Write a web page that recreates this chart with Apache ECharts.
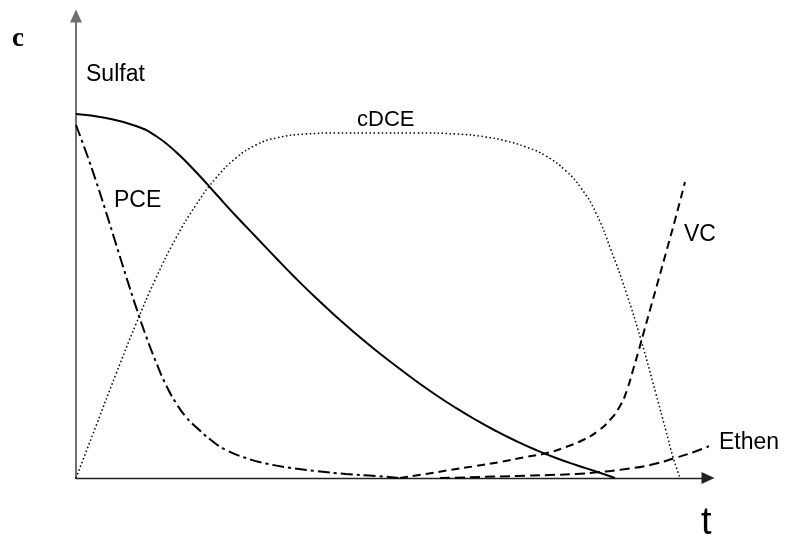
<!DOCTYPE html>
<html>
<head>
<meta charset="utf-8">
<script src="https://cdn.jsdelivr.net/npm/echarts@6/dist/echarts.min.js"></script>
<style>
html,body{margin:0;padding:0;background:#fff;}
#chart{width:786px;height:537px;}
</style>
</head>
<body>
<div id="chart"></div>
<script>
// Arbitrary units (time, concentration)
const sulfat = [[0,364],[30,360],[60,352],[80,342],[100,326],[120,306],[140,284],[160,262],[180,241],[200,220],[220,199.5],[240,180],[260,161.5],[280,144],[300,127.5],[320,112],[340,97],[360,83],[380,70],[400,58],[420,47],[440,37],[460,28],[480,20],[500,13],[520,6.5],[539,0]];
const pce = [[0,353],[10,326],[20,297],[30,266],[40,234],[50,202],[60,171],[70,142],[80,116],[90,93],[100,75],[110,61],[120,51],[135,38],[150,28],[170,20],[190,14.5],[215,10],[240,7],[270,4],[300,2],[324,0]];
const cdce = [[0,0],[20,52],[40,104],[60,154],[80,200],[100,240],[120,273],[140,300],[160,320],[180,333],[200,340],[230,344],[260,345],[300,345],[340,345],[380,344],[410,341],[430,337],[450,331],[470,322],[490,307],[505,290],[520,265],[535,228],[550,186],[565,138],[580,84],[590,47],[597,21],[604,0]];
const vc = [[324,0],[350,4],[374,8],[400,12],[424,16],[450,21],[471,25],[490,31],[507,38],[522,47],[534,58],[544,72],[551,88],[557,108],[562,125],[567,143],[574,168],[581,193],[591,229],[599,258],[609,296]];
const ethen = [[364,0],[404,1],[440,2],[474,3],[500,4],[524,6],[550,9],[574,13],[599,20],[618,26],[636,33]];

const seriesNames = ['Sulfat','PCE','cDCE','VC','Ethen'];
const xMax = 632, yMax = 462;

const chart = echarts.init(document.getElementById('chart'));
const sans = '"Liberation Sans", Arial, sans-serif';
function line(name, data, type, width) {
  return {
    name: name, type: 'line', data: data, showSymbol: false, symbol: 'none',
    smooth: 0.5, clip: false, silent: true,
    lineStyle: { color: '#000', width: width, type: type }
  };
}
chart.setOption({
  animation: false,
  backgroundColor: '#fff',
  grid: { left: 76, right: 78, top: 16, bottom: 59 },
  xAxis: {
    type: 'value', min: 0, max: xMax,
    axisLine: { show: true, symbol: ['none','triangle'], symbolSize: [12,13],
      lineStyle: { color: '#222', width: 1.3 } },
    axisTick: { show: false }, axisLabel: { show: false }, splitLine: { show: false }
  },
  yAxis: {
    type: 'value', min: 0, max: yMax,
    axisLine: { show: true, symbol: ['none','triangle'], symbolSize: [12,13],
      lineStyle: { color: '#6e6e6e', width: 2 } },
    axisTick: { show: false }, axisLabel: { show: false }, splitLine: { show: false }
  },
  series: [
    line(seriesNames[0], sulfat, 'solid', 2),
    line(seriesNames[1], pce, [12,4,3,4], 2),
    line(seriesNames[2], cdce, [1.5,2.5], 1.5),
    line(seriesNames[3], vc, [8,5], 2),
    line(seriesNames[4], ethen, [10,5], 2)
  ],
  graphic: [
    { type: 'text', style: { text: 'c', x: 12, y: 39, font: 'bold 27px "Liberation Serif", serif', fill: '#000', textVerticalAlign: 'middle' } },
    { type: 'text', style: { text: 't', x: 701, y: 524, font: '38px ' + sans, fill: '#000', textVerticalAlign: 'middle' } },
    { type: 'text', style: { text: 'Sulfat', x: 86, y: 75, font: '23px ' + sans, fill: '#000', textVerticalAlign: 'middle' } },
    { type: 'text', style: { text: 'PCE', x: 114, y: 201, font: '23px ' + sans, fill: '#000', textVerticalAlign: 'middle' } },
    { type: 'text', style: { text: 'cDCE', x: 357, y: 120, font: '22px ' + sans, fill: '#000', textVerticalAlign: 'middle' } },
    { type: 'text', style: { text: 'VC', x: 684, y: 235, font: '23px ' + sans, fill: '#000', textVerticalAlign: 'middle' } },
    { type: 'text', style: { text: 'Ethen', x: 719, y: 443, font: '23px ' + sans, fill: '#000', textVerticalAlign: 'middle' } }
  ]
});
</script>
</body>
</html>
